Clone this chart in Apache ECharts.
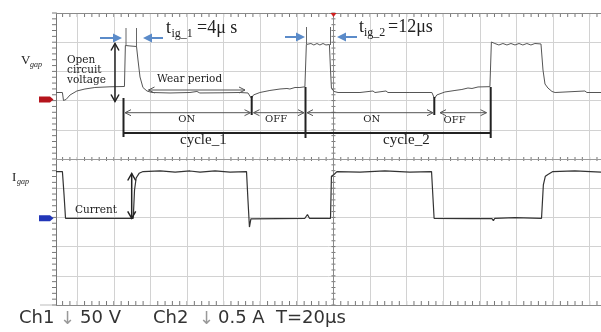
<!DOCTYPE html>
<html>
<head>
<meta charset="utf-8">
<script src="https://cdn.jsdelivr.net/npm/echarts@6/dist/echarts.min.js"></script>
<style>
  html, body { margin: 0; padding: 0; background: #fff; }
  #chart { width: 601px; height: 332px; }
</style>
</head>
<body>
<div id="chart"></div>
<script>
// time in µs (0 = trigger / centre line, 20 µs per div)
// ch1 = gap voltage in V (50 V/div), ch2 = gap current in A (0.5 A/div)
const ch1Time = [-151.6, -148.1, -147.5, -146.1, -143.9, -140.2, -135.8, -130.4, -122.1, -114.2,
  -113.7, -111.2, -107.6, -106.8, -105.7, -104.1, -101.9, -99.2, -89.3, -78.4,
  -74.6, -73.0, -62.0, -51.1, -46.7, -44.8, -43.7, -40.2, -34.7, -29.2,
  -25.4, -23.8, -21.0, -18.3, -15.6, -14.8, -12.3, -10.7, -9.0, -7.4,
  -5.7, -4.1, -2.2, -1.6, -1.1, 0.3, 2.5, 14.5, 21.6, 22.7,
  28.7, 29.8, 41.8, 53.8, 55.2, 56.5, 60.9, 66.4, 70.2, 73.5,
  75.7, 79.0, 85.5, 86.3, 88.2, 90.4, 92.6, 94.8, 97.0, 99.2,
  101.4, 103.5, 105.7, 107.9, 110.1, 113.4, 114.5, 115.6, 117.2, 119.4,
  121.1, 137.4, 138.5, 146.2];
const ch1Volt = [11.6, 11.6, -2.1, -0.3, 7.4, 14.2, 17.6, 20.2, 21.4, 21.9,
  92.1, 91.3, 90.4, 67.3, 38.2, 20.2, 14.2, 11.6, 10.8, 11.6,
  13.4, 10.8, 11.1, 11.6, 10.8, 1.4, 7.4, 11.6, 15.1, 17.6,
  18.5, 17.6, 20.2, 20.2, 21.4, 93.8, 95.5, 93.0, 95.5, 93.0,
  95.5, 93.0, 93.8, 50.2, 19.3, 13.4, 11.6, 11.6, 14.2, 11.6,
  14.2, 11.6, 11.6, 11.6, 1.4, 7.4, 12.5, 15.1, 16.8, 19.3,
  18.5, 21.1, 21.6, 98.1, 95.5, 93.0, 95.5, 93.0, 95.5, 93.0,
  95.5, 93.0, 95.5, 93.0, 95.5, 94.7, 50.2, 26.2, 19.3, 13.4,
  11.6, 14.2, 11.6, 11.6];

const ch2Time = [-151.6, -148.1, -147.2, -146.4, -109.4, -108.7, -107.8, -106.2, -104.0, -94.7,
  -86.5, -78.4, -72.9, -64.7, -56.5, -47.5, -46.7, -45.9, -45.1, -44.3,
  -15.6, -14.2, -13.1, -1.6, -1.1, 0.3, 1.9, 14.5, 28.1, 41.8,
  53.6, 55.0, 74.6, 86.6, 87.4, 88.2, 99.2, 113.7, 114.7, 115.8,
  117.2, 119.9, 131.9, 146.2];
const ch2Amp = [0.80, 0.80, 0.40, 0, 0, 0.48, 0.69, 0.77, 0.80, 0.81,
  0.79, 0.81, 0.79, 0.81, 0.79, 0.80, 0.31, -0.15, -0.01, 0,
  0, 0.065, 0, 0, 0.72, 0.75, 0.80, 0.79, 0.81, 0.79,
  0.80, 0, -0.005, -0.005, -0.04, 0, 0.01, 0, 0.57, 0.72,
  0.75, 0.80, 0.81, 0.79];

// screen settings
const T_MIN = -151.6, T_MAX = 146.2;
const US_PER_DIV = 20;
const V_PER_DIV = 50, A_PER_DIV = 0.5;
const CH1_ZERO_DIV = 2.045;  // red ground marker
const CH2_ZERO_DIV = -2.03;  // blue ground marker

const gridT = [];
for (let k = Math.ceil(T_MIN / US_PER_DIV); k * US_PER_DIV <= T_MAX; k++) {
  if (k !== 0) gridT.push(k * US_PER_DIV);
}

// small graticule ticks (0.2 div)
const hTicks = [];
for (let t = Math.ceil(T_MIN / 4) * 4; t <= T_MAX; t += 4) {
  hTicks.push({ value: [t, 0] });
  hTicks.push({ value: [t, 5], symbolOffset: [0, 2] });
  hTicks.push({ value: [t, -5], symbolOffset: [0, -2] });
}
const vTicks = [];
for (let i = -25; i <= 25; i++) {
  vTicks.push({ value: [0, i / 5] });
  vTicks.push({ value: [T_MIN, i / 5], symbolOffset: [-2, 0] });
}

// ---- annotations (drawn on top of the screen shot) ----
const ann = [];
const INK = "#222";
const GREY = "#555";
const BLUE = "#5b8bc9";
function seg(x1, y1, x2, y2, color, w) {
  ann.push({ type: "line", silent: true, z: 50,
    shape: { x1: x1, y1: y1, x2: x2, y2: y2 },
    style: { stroke: color, lineWidth: w } });
}
function poly(points, color, w) {
  ann.push({ type: "polyline", silent: true, z: 50,
    shape: { points: points }, style: { stroke: color, lineWidth: w, fill: null } });
}
function dblH(x1, x2, y, color, w) {
  seg(x1, y, x2, y, color, w);
  poly([[x1 + 6, y - 3], [x1, y], [x1 + 6, y + 3]], color, w);
  poly([[x2 - 6, y - 3], [x2, y], [x2 - 6, y + 3]], color, w);
}
function dblV(x, y1, y2, color, w) {
  seg(x, y1, x, y2, color, w);
  poly([[x - 4, y1 + 7], [x, y1], [x + 4, y1 + 7]], color, w);
  poly([[x - 4, y2 - 7], [x, y2], [x + 4, y2 - 7]], color, w);
}
function blueArrow(xFrom, xTo, y) {
  const d = xTo > xFrom ? 1 : -1;
  seg(xFrom, y, xTo - d * 7, y, BLUE, 2);
  ann.push({ type: "polygon", silent: true, z: 50,
    shape: { points: [[xTo, y], [xTo - d * 9, y - 4.5], [xTo - d * 9, y + 4.5]] },
    style: { fill: BLUE } });
}
function txt(s, x, y, font, color, align) {
  ann.push({ type: "text", silent: true, z: 60, x: x, y: y,
    style: { text: s, font: font, fill: color || INK,
      align: align || "left", verticalAlign: "middle",
      textAlign: align || "left", textVerticalAlign: "middle" } });
}

const SERIF = "'Liberation Serif', serif";
const DSERIF = "'DejaVu Serif', serif";

// channel labels
txt("V", 21, 61, "13px " + SERIF);
txt("gap", 30, 64.6, "italic 8px " + SERIF);
txt("I", 12, 177.8, "13px " + SERIF);
txt("gap", 17, 181.6, "italic 8px " + SERIF);

// ground markers + trigger marker
ann.push({ type: "polygon", silent: true, z: 40,
  shape: { points: [[39, 96.5], [50, 96.5], [53.5, 99.5], [50, 102.5], [39, 102.5]] },
  style: { fill: "#b5141c" } });
ann.push({ type: "polygon", silent: true, z: 40,
  shape: { points: [[39, 215.3], [50, 215.3], [53.5, 218.3], [50, 221.3], [39, 221.3]] },
  style: { fill: "#2236b8" } });
ann.push({ type: "polygon", silent: true, z: 40,
  shape: { points: [[330.5, 13], [336.5, 13], [333.5, 17]] },
  style: { fill: "#d02020" } });
seg(40, 305, 56, 305, "#bbb", 1);

// ignition delay marks
seg(126, 28, 126, 46, "#666", 1);
seg(136.5, 28, 136.5, 47, "#666", 1);
seg(306.5, 27, 306.5, 44, "#666", 1);
seg(330.5, 27, 330.5, 45, "#666", 1);
blueArrow(100, 122, 38);
blueArrow(163, 143, 38);
blueArrow(285, 305, 37);
blueArrow(357, 337, 37);
txt("t", 166, 28.6, "18px " + SERIF);
txt("ig_1", 171.5, 33.4, "12px " + SERIF);
txt("=4\u03bc s", 197, 28.6, "18px " + SERIF);
txt("t", 359, 27.6, "18px " + SERIF);
txt("ig_2", 364, 32.4, "12px " + SERIF);
txt("=12\u03bcs", 388, 27.6, "18px " + SERIF);

// open circuit voltage
dblV(115, 43.5, 101.5, INK, 1.5);
txt("Open", 67, 60, "10.5px " + DSERIF);
txt("circuit", 67, 70, "10.5px " + DSERIF);
txt("voltage", 67, 80, "10.5px " + DSERIF);

// wear period
dblH(148.5, 245, 90, GREY, 1);
txt("Wear period", 157, 79, "10.5px " + DSERIF);

// cycle markers
seg(123.5, 98, 123.5, 137, INK, 2);
seg(251.7, 96, 251.7, 115, INK, 2);
seg(305.5, 87, 305.5, 138, INK, 2);
seg(434.3, 97, 434.3, 115, INK, 2);
seg(490.7, 87, 490.7, 138, INK, 2);
seg(123.5, 133, 490.7, 133, INK, 2);
dblH(125, 250.5, 112.7, GREY, 1);
dblH(253.5, 304, 112.7, GREY, 1);
dblH(307, 433, 112.7, GREY, 1);
dblH(440, 486.5, 112.7, GREY, 1);
txt("ON", 186.7, 119.7, "10px " + DSERIF, INK, "center");
txt("OFF", 265, 119.7, "10px " + DSERIF);
txt("ON", 371.7, 119, "10px " + DSERIF, INK, "center");
txt("OFF", 443.5, 120.3, "10px " + DSERIF);
txt("cycle_1", 180, 140.5, "15px " + SERIF);
txt("cycle_2", 383, 140.5, "15px " + SERIF);

// current
dblV(131.7, 173.5, 218.3, INK, 1.5);
txt("Current", 75, 210, "10.5px " + DSERIF);

// scope settings line
const SANS = "18px 'DejaVu Sans', sans-serif";
txt("Ch1", 19, 318, SANS, "#333");
txt("\u2193", 60, 319, SANS, "#999");
txt("50 V", 80, 318, SANS, "#333");
txt("Ch2", 153, 318, SANS, "#333");
txt("\u2193", 199, 319, SANS, "#999");
txt("0.5 A", 218, 318, SANS, "#333");
txt("T=20\u03bcs", 276, 318, SANS, "#333");

const chart = echarts.init(document.getElementById("chart"), null, { renderer: "canvas" });

const option = {
  animation: false,
  backgroundColor: "#fff",
  grid: { left: 56, right: 0, top: 13, bottom: 27 },
  xAxis: {
    type: "value", min: T_MIN, max: T_MAX, show: false,
  },
  yAxis: [
    {
      type: "value", min: -5, max: 5, interval: 1,
      axisLine: { show: true, onZero: false, lineStyle: { color: "#777", width: 1 } },
      axisTick: { show: false },
      axisLabel: { show: false },
      splitLine: { show: true, lineStyle: { color: "#d2d2d2", width: 1 } },
    },
    { type: "value", show: false, splitLine: { show: false },
      min: (-5 - CH1_ZERO_DIV) * V_PER_DIV, max: (5 - CH1_ZERO_DIV) * V_PER_DIV },
    { type: "value", show: false, splitLine: { show: false },
      min: (-5 - CH2_ZERO_DIV) * A_PER_DIV, max: (5 - CH2_ZERO_DIV) * A_PER_DIV },
  ],
  series: [
    {
      name: "graticule", type: "line", data: [[T_MIN, 0]],
      showSymbol: false, lineStyle: { opacity: 0 }, silent: true, z: 1,
      markLine: {
        silent: true, symbol: "none", label: { show: false }, animation: false,
        lineStyle: { color: "#d2d2d2", width: 1, type: "solid" },
        data: gridT.map((t) => ({ xAxis: t })).concat([
          { xAxis: 0, lineStyle: { color: "#8a8a8a", width: 1, type: "solid" } },
          { yAxis: 0, lineStyle: { color: "#9a9a9a", width: 1, type: "solid" } },
          { yAxis: 5, lineStyle: { color: "#8a8a8a", width: 1, type: "solid" } },
          { yAxis: -5, lineStyle: { color: "#8a8a8a", width: 1, type: "solid" } },
        ]),
      },
    },
    {
      name: "hTicks", type: "scatter", data: hTicks, symbol: "rect",
      symbolSize: [1, 4], itemStyle: { color: "#555" }, silent: true, z: 2,
    },
    {
      name: "vTicks", type: "scatter", data: vTicks, symbol: "rect",
      symbolSize: [4, 1], itemStyle: { color: "#555" }, silent: true, z: 2,
    },
    {
      name: "Vgap", type: "line", yAxisIndex: 1,
      data: ch1Time.map((t, i) => [t, ch1Volt[i]]),
      showSymbol: false, silent: true, z: 5,
      lineStyle: { color: "#555", width: 1 },
    },
    {
      name: "Igap", type: "line", yAxisIndex: 2,
      data: ch2Time.map((t, i) => [t, ch2Amp[i]]),
      showSymbol: false, silent: true, z: 5,
      lineStyle: { color: "#333", width: 1.2 },
    },
  ],
  graphic: { elements: ann },
};

chart.setOption(option);
</script>
</body>
</html>
